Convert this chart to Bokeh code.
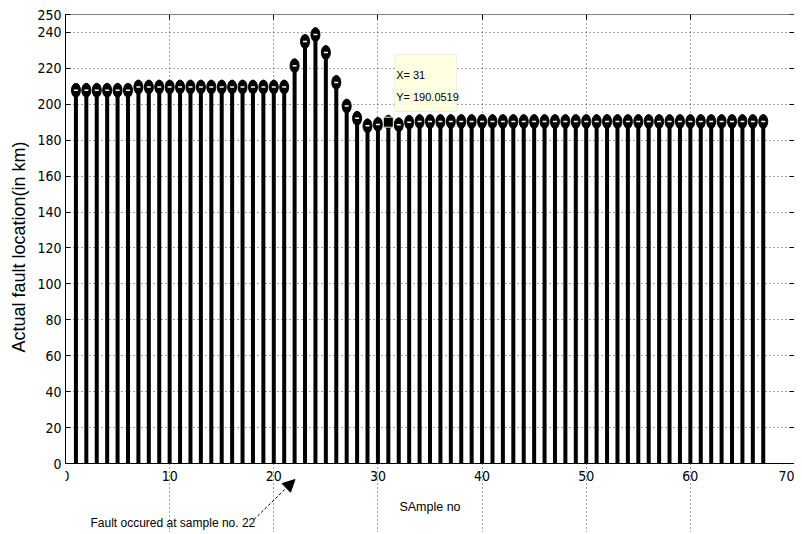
from bokeh.plotting import figure
from bokeh.models import (Range1d, FixedTicker, LinearAxis, Label, Arrow, NormalHead,
                          BoxAnnotation, ColumnDataSource)
from bokeh.embed import file_html
from bokeh.resources import INLINE

# ---- data ----
samples = list(range(1, 68))
fault_km = [
    207.8, 207.8, 207.8, 207.8, 207.8, 207.8,
    209.6, 209.6, 209.6, 209.6, 209.6, 209.6, 209.6, 209.6, 209.6, 209.6,
    209.6, 209.6, 209.6, 209.6, 209.6,
    221.5, 235.0, 238.8, 228.8, 212.2, 199.0, 192.2, 188.0, 188.8, 190.0519,
    188.6, 190.0,
    190.4, 190.4, 190.4, 190.4, 190.4, 190.4, 190.4, 190.4, 190.4, 190.4,
    190.4, 190.4, 190.4, 190.4, 190.4, 190.4, 190.4, 190.4, 190.4, 190.4,
    190.4, 190.4, 190.4, 190.4, 190.4, 190.4, 190.4, 190.4, 190.4, 190.4,
    190.4, 190.4, 190.4, 190.4,
]
x_ticks = [0, 10, 20, 30, 40, 50, 60, 70]
y_ticks = [0, 20, 40, 60, 80, 100, 120, 140, 160, 180, 200, 220, 240, 250]
x_label = "SAmple no"
y_label = "Actual fault location(in km)"
tip_sample = 31
tip_value = 190.0519
fault_sample = 22
note = "Fault occured at sample no. %d" % fault_sample

src = ColumnDataSource(dict(x=samples, y=fault_km, y0=[0] * len(samples)))

X0, X1, Y0, Y1 = 0, 70, 0, 250
Y_LOW = -38.4   # room under the axes (inside the frame) for the note and its arrow

W, H = 794, 532
p = figure(width=W, height=H, output_backend="svg", toolbar_location=None,
           x_range=Range1d(X0, X1), y_range=Range1d(Y_LOW, Y1),
           x_axis_location=None, y_axis_location="left",
           title=y_label, title_location="left",
           min_border_left=63, min_border_right=0, min_border_top=14, min_border_bottom=0)
p.background_fill_color = "white"
p.border_fill_color = "white"
p.outline_line_color = None

p.title.text_font = "Liberation Sans"
p.title.text_font_size = "18px"
p.title.text_font_style = "normal"
p.title.text_color = "black"
p.title.align = "left"
p.title.offset = 180
p.title.standoff = 12

tick_font = "'Liberation Sans Narrow', 'DejaVu Sans Condensed', 'Liberation Sans'"

# left axis
ya = p.yaxis[0]
ya.ticker = FixedTicker(ticks=y_ticks)
ya.bounds = (Y0, Y1)
ya.major_label_text_font = tick_font
ya.major_label_text_font_size = "14px"
ya.major_label_text_color = "black"
ya.major_label_standoff = 4
ya.major_tick_in = 5
ya.major_tick_out = 0
ya.minor_tick_line_color = None
ya.axis_line_color = "black"
ya.major_tick_line_color = "black"

# bottom axis drawn at y = 0
xa = LinearAxis(fixed_location=Y0, ticker=FixedTicker(ticks=x_ticks),
                axis_label=x_label, axis_label_text_font="Liberation Sans",
                axis_label_text_font_size="12.5px", axis_label_text_font_style="normal",
                axis_label_text_color="black", axis_label_standoff=16,
                major_label_text_font=tick_font, major_label_text_font_size="14px",
                major_label_text_color="black", major_label_standoff=7,
                major_tick_in=5, major_tick_out=0, minor_tick_line_color=None,
                axis_line_color="black", major_tick_line_color="black")
p.add_layout(xa, "below")

# top and right box edges with inward ticks
top = LinearAxis(fixed_location=Y1, ticker=FixedTicker(ticks=x_ticks),
                 major_label_text_font_size="1px", major_label_text_color=None,
                 major_label_standoff=0, major_tick_in=5, major_tick_out=0,
                 minor_tick_line_color=None, axis_line_color="black",
                 major_tick_line_color="black")
p.add_layout(top, "above")
right = LinearAxis(fixed_location=X1, bounds=(Y0, Y1), ticker=FixedTicker(ticks=y_ticks),
                   major_label_text_font_size="1px", major_label_text_color=None,
                   major_label_standoff=0, major_tick_in=5, major_tick_out=0,
                   minor_tick_line_color=None, axis_line_color="black",
                   major_tick_line_color="black")
p.add_layout(right, "right")

p.xgrid.ticker = FixedTicker(ticks=x_ticks)
p.xgrid.bounds = (Y0, Y1)
p.ygrid.ticker = FixedTicker(ticks=y_ticks[1:-1])
for g in (p.xgrid[0], p.ygrid[0]):
    g.grid_line_color = "#444444"
    g.grid_line_dash = "1 3"
    g.grid_line_width = 1

# stems
p.segment(x0="x", y0="y0", x1="x", y1="y", source=src, line_color="black", line_width=4)
# markers
p.ellipse(x="x", y="y", width=9, height=14, width_units="screen", height_units="screen",
          source=src, fill_color="black", line_color="black")
p.scatter(x="x", y="y", marker="dash", size=4, source=src, line_color="white", line_width=1.5)

# data tip highlight
p.scatter(x=[tip_sample], y=[tip_value], marker="square", size=10,
          fill_color="black", line_color="#f4f0c0", line_width=1)
box = BoxAnnotation(left=31.6, right=37.55, bottom=196.0, top=227.7,
                    fill_color="#ffffe1", fill_alpha=1.0, line_color="#c8c8b8", line_width=1)
p.add_layout(box)
p.add_layout(Label(x=31.75, y=216.5, text="X= %d" % tip_sample, text_font="Liberation Sans",
                   text_font_size="11px", text_baseline="middle", text_color="black"))
p.add_layout(Label(x=31.75, y=204.3, text="Y= %.4f" % tip_value, text_font="Liberation Sans",
                   text_font_size="11px", text_baseline="middle", text_color="black"))

# note with arrow under the axis
p.add_layout(Arrow(x_start=18.1, y_start=-31.2, x_end=fault_sample + 0.03, y_end=-8.9,
                   line_color="black", line_width=1, line_dash="3 2",
                   end=NormalHead(size=12, fill_color="black", line_color="black")))
p.add_layout(Label(x=2.4, y=-32.9, text=note, text_font="Liberation Sans",
                   text_font_size="12px", text_baseline="middle", text_color="black"))

open("out.html", "w").write(file_html(p, INLINE))
